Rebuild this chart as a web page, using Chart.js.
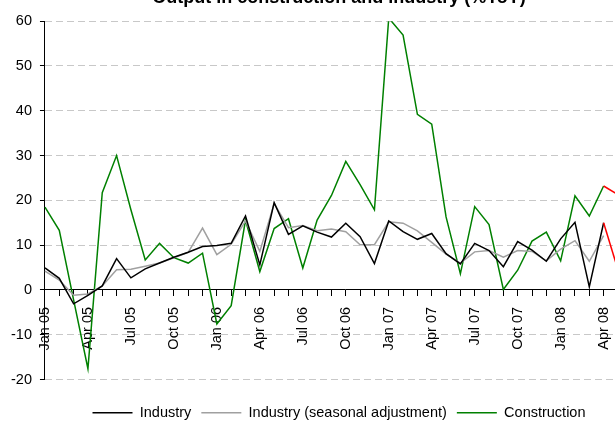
<!DOCTYPE html>
<html>
<head>
<meta charset="utf-8">
<script src="https://cdn.jsdelivr.net/npm/chart.js@4.4.1/dist/chart.umd.min.js"></script>
<style>
  html, body { margin: 0; padding: 0; background: #fff; overflow: hidden; }
  #wrap { position: relative; width: 615px; height: 424px; overflow: hidden; }
  #chart { position: absolute; left: 0; top: -20px; }
</style>
</head>
<body>
<div id="wrap"><canvas id="chart" width="675" height="450"></canvas></div>
<script>
// Months on the axis, Jan 05 .. Jul 08 (data runs to May 08; the rest is cut off at the right)
const months = [
  'Jan 05', 'Feb 05', 'Mar 05', 'Apr 05', 'May 05', 'Jun 05', 'Jul 05', 'Aug 05', 'Sep 05', 'Oct 05', 'Nov 05', 'Dec 05',
  'Jan 06', 'Feb 06', 'Mar 06', 'Apr 06', 'May 06', 'Jun 06', 'Jul 06', 'Aug 06', 'Sep 06', 'Oct 06', 'Nov 06', 'Dec 06',
  'Jan 07', 'Feb 07', 'Mar 07', 'Apr 07', 'May 07', 'Jun 07', 'Jul 07', 'Aug 07', 'Sep 07', 'Oct 07', 'Nov 07', 'Dec 07',
  'Jan 08', 'Feb 08', 'Mar 08', 'Apr 08', 'May 08', 'Jun 08', 'Jul 08',
]
const shownMonths = ['Jan', 'Apr', 'Jul', 'Oct']

// %YoY
const industry = [
  4.9, 2.6, -3.1, -1.2, 0.9, 7.0, 2.7, 4.7, 6.0, 7.3, 8.4, 9.7,
  9.9, 10.4, 16.5, 5.6, 19.5, 12.4, 14.3, 12.9, 11.8, 14.9, 11.9, 5.9,
  15.4, 13.0, 11.3, 12.6, 8.1, 5.8, 10.4, 8.8, 5.2, 10.8, 8.9, 6.4,
  11.4, 15.1, 0.7, 15.0, 4.5,
]
const industrySA = [
  4.2, 2.2, -1.2, -0.9, 0.9, 4.5, 4.6, 5.3, 6.0, 7.2, 8.4, 13.8,
  7.9, 10.2, 15.4, 8.6, 19.3, 13.9, 14.4, 13.2, 13.6, 13.0, 10.1, 10.1,
  15.2, 14.9, 13.2, 10.6, 8.0, 6.0, 8.5, 8.8, 7.3, 8.8, 8.6, 6.5,
  9.1, 11.0, 6.4, 12.1,
]
const construction = [
  18.5, 13.3, -2.2, -17.6, 21.7, 30.0, 17.9, 6.7, 10.4, 7.2, 6.0, 8.2,
  -7.6, -3.5, 15.6, 4.1, 13.7, 15.9, 4.9, 15.6, 21.1, 28.7, 23.5, 17.9,
  60.7, 56.9, 39.2, 37.0, 16.3, 3.6, 18.6, 14.6, 0.1, 4.4, 10.9, 12.9,
  6.5, 21.0, 16.5, 23.2, 21.3,
]
const yTicks = { min: -20, max: 60, step: 10 }

const font = 'Liberation Sans, Arial, sans-serif'
const lastIdx = industry.length - 1

// last (preliminary) month drawn in red
function segColor(base) {
  return (ctx) => (ctx.p1DataIndex === lastIdx ? '#ff0000' : base)
}

function line(label, data, color) {
  return {
    label,
    data,
    borderColor: color,
    backgroundColor: color,
    borderWidth: 1.5,
    pointRadius: 0,
    tension: 0,
    segment: { borderColor: segColor(color) },
  }
}

new Chart(document.getElementById('chart'), {
  type: 'line',
  data: {
    labels: months,
    datasets: [
      line('Industry', industry, '#000000'),
      line('Industry (seasonal adjustment)', industrySA, '#a0a0a0'),
      line('Construction', construction, '#008000'),
    ],
  },
  options: {
    responsive: false,
    animation: false,
    layout: { padding: { left: 3, right: 0, top: 0, bottom: 0 } },
    scales: {
      x: {
        position: { y: 0 },
        grid: { drawOnChartArea: false, drawTicks: true, tickLength: 6, tickColor: '#000' },
        border: { color: '#000', width: 1 },
        ticks: {
          autoSkip: false,
          minRotation: 90,
          maxRotation: 90,
          padding: 11,
          color: '#000',
          font: { family: font, size: 14.5 },
          callback(value) {
            const lbl = this.getLabelForValue(value)
            return shownMonths.includes(lbl.slice(0, 3)) ? lbl : ''
          },
        },
      },
      y: {
        min: yTicks.min,
        max: yTicks.max,
        grid: {
          color: '#c8c8c8',
          tickColor: '#000',
          tickLength: 5,
          tickBorderDash: [],
        },
        border: { color: '#000', width: 1, dash: [7, 4] },
        ticks: {
          stepSize: yTicks.step,
          padding: 8,
          color: '#000',
          font: { family: font, size: 14.5 },
        },
      },
    },
    plugins: {
      title: {
        display: true,
        text: 'Output in construction and industry (%YoY)',
        color: '#000',
        font: { family: font, size: 18, weight: 'bold' },
        padding: { top: 7.4, bottom: 12.2 },
      },
      legend: {
        position: 'bottom',
        title: { display: true, text: '', font: { size: 10 }, padding: { top: 4, bottom: 0 } },
        labels: {
          usePointStyle: true,
          pointStyle: 'line',
          pointStyleWidth: 40,
          padding: 10,
          color: '#000',
          font: { family: font, size: 14.5 },
        },
      },
      tooltip: { enabled: false },
    },
  },
})
</script>
</body>
</html>
